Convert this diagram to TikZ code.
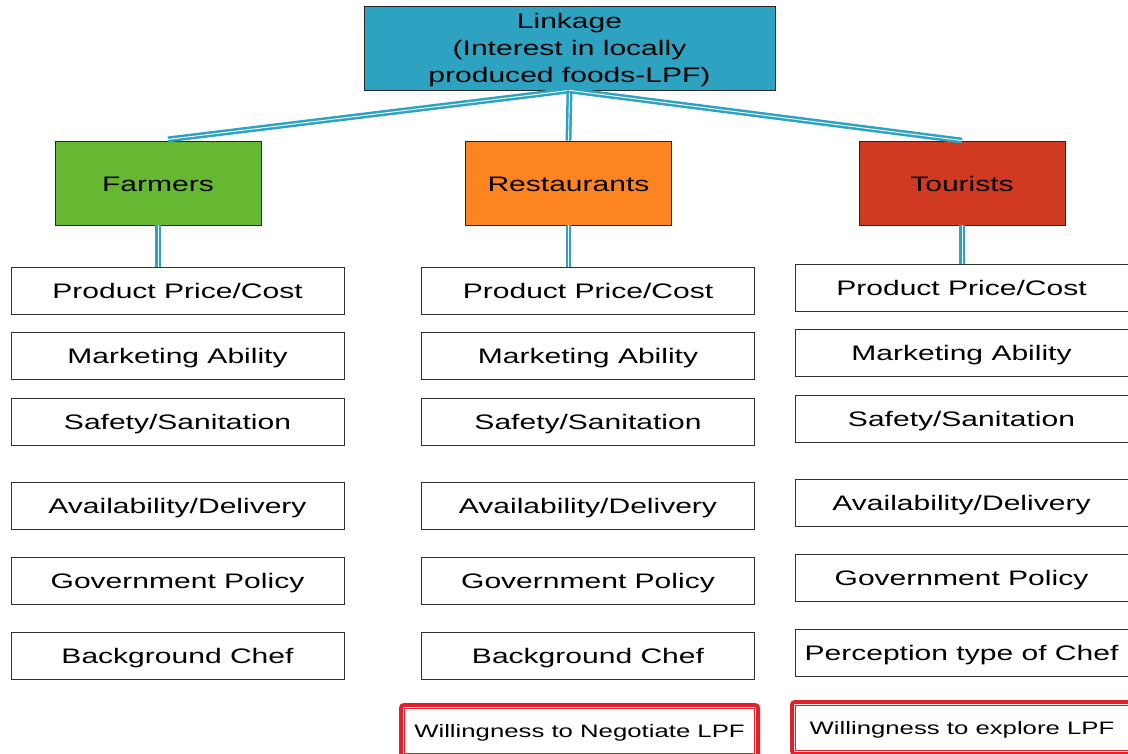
\documentclass[tikz,border=0pt]{standalone}
\usepackage{fontspec}
\setmainfont{Liberation Sans}[FakeStretch=1.43]
\usetikzlibrary{positioning}

\definecolor{linkblue}{HTML}{2EA3C1}
\definecolor{farmgreen}{HTML}{66B832}
\definecolor{restorange}{HTML}{FD8521}
\definecolor{tourred}{HTML}{CF3A20}
\definecolor{boxred}{HTML}{E0202A}

\begin{document}
\begin{tikzpicture}[x=1pt,y=-1pt,
		group/.style={draw=black!85, line width=0.8pt, minimum width=206pt, minimum height=84pt, inner sep=0pt, font=\fontsize{21}{27}\selectfont},
		oneline/.style={text height=16pt, text depth=0pt},
		factor/.style={draw=black!80, line width=0.8pt, minimum width=333pt, minimum height=47pt, inner sep=0pt, oneline, font=\fontsize{21}{27}\selectfont},
		willing/.style={draw=boxred, line width=4pt, rounded corners=3pt, inner sep=0pt, text height=13pt, text depth=0pt, font=\fontsize{18}{22}\selectfont},
		link/.style={draw=linkblue, line width=2.5pt, double=white, double distance=0.9pt}]
	\clip (0,0) rectangle (1128,753);
	\fill[white] (0,0) rectangle (1128,753);

	% top box and the three groups
	\node [group, fill=linkblue, minimum width=411pt, align=center, text depth=-8pt] (linkage) at (569.5,48)
		{Linkage\\(Interest in locally\\produced foods-LPF)};
	\node [group, oneline, fill=farmgreen] (farmers) at (158,183) {Farmers};
	\node [group, oneline, fill=restorange] (restaurants) at (568.5,183) {Restaurants};
	\node [group, oneline, fill=tourred] (tourists) at (962,183) {Tourists};

	% farmers column
	\node [factor] (f1) at (177.5,290.5) {Product Price/Cost};
	\node [factor] (f2) at (177.5,355.5) {Marketing Ability};
	\node [factor] (f3) at (177.5,421.5) {Safety/Sanitation};
	\node [factor] (f4) at (177.5,505.5) {Availability/Delivery};
	\node [factor] (f5) at (177.5,580.5) {Government Policy};
	\node [factor] (f6) at (177.5,655.5) {Background Chef};

	% restaurants column
	\node [factor] (r1) at (588,290.5) {Product Price/Cost};
	\node [factor] (r2) at (588,355.5) {Marketing Ability};
	\node [factor] (r3) at (588,421.5) {Safety/Sanitation};
	\node [factor] (r4) at (588,505.5) {Availability/Delivery};
	\node [factor] (r5) at (588,580.5) {Government Policy};
	\node [factor] (r6) at (588,655.5) {Background Chef};

	% tourists column
	\node [factor] (t1) at (961.5,287.5) {Product Price/Cost};
	\node [factor] (t2) at (961.5,352.5) {Marketing Ability};
	\node [factor] (t3) at (961.5,418.5) {Safety/Sanitation};
	\node [factor] (t4) at (961.5,502.5) {Availability/Delivery};
	\node [factor] (t5) at (961.5,577.5) {Government Policy};
	\node [factor] (t6) at (961.5,652.5) {Perception type of Chef};

	% willingness boxes
	\node [willing, minimum width=357pt, minimum height=52pt] (negotiate) at (579.5,731)
		{Willingness to Negotiate LPF};
	\node [willing, minimum width=340pt, minimum height=52pt] (explore) at (962,728)
		{Willingness to explore LPF};
	\draw [boxred, line width=0.8pt]
		([shift={(5.5,5.5)}]negotiate.north west) rectangle ([shift={(-5.5,-5.5)}]negotiate.south east)
		([shift={(5.5,5.5)}]explore.north west) rectangle ([shift={(-5.5,-5.5)}]explore.south east);

	% connectors
	\draw [link, shorten >=10pt] (linkage.south) -- (farmers.north);
	\draw [link] (linkage.south) -- (restaurants.north);
	\draw [link] (linkage.south) -- (tourists.north);
	\draw [link] (farmers.south) -- (farmers.south |- f1.north);
	\draw [link] (restaurants.south) -- (restaurants.south |- r1.north);
	\draw [link] (tourists.south) -- (tourists.south |- t1.north);
\end{tikzpicture}
\end{document}
